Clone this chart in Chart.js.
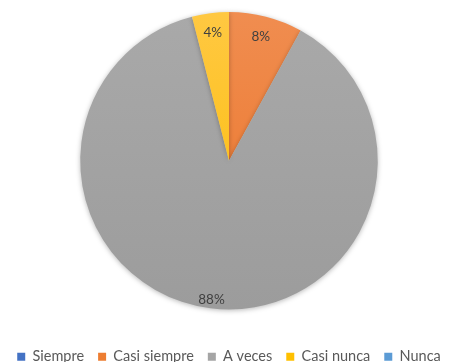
<!DOCTYPE html>
<html>
<head>
<meta charset="utf-8">
<script src="https://cdn.jsdelivr.net/npm/chart.js@4/dist/chart.umd.min.js"></script>
<style>
  html, body { margin: 0; padding: 0; background: #fff; overflow: hidden; }
  #wrap { width: 458px; height: 374px; }
</style>
</head>
<body>
<div id="wrap"><canvas id="respuestas"></canvas></div>
<script>
// datos
const labels = ['Siempre', 'Casi siempre', 'A veces', 'Casi nunca', 'Nunca'];
const valores = [0, 8, 88, 4, 0];
const colores = ['#4472C4', '#ED7D31', '#A5A5A5', '#FFC000', '#5B9BD5'];
// tono claro arriba / oscuro abajo (degradado tipo Excel)
const coloresArriba = ['#5080CC', '#F08D50', '#A9A9A9', '#FFC842', '#68A5DA'];
const coloresAbajo = ['#3F6BBA', '#EB7326', '#9C9C9C', '#FBBC00', '#4F91CC'];

// distancia de cada etiqueta desde el centro (fraccion del radio)
const posEtiquetas = [0.8, 0.86, 0.94, 0.87, 0.8];

function relleno(context){
    const chart = context.chart;
    const area = chart.chartArea;
    const i = context.dataIndex;
    if(!area) return colores[i];
    const g = chart.ctx.createLinearGradient(0, area.top, 0, area.bottom);
    g.addColorStop(0, coloresArriba[i]);
    g.addColorStop(1, coloresAbajo[i]);
    return g;
}

const sombraPlugin = {
    id: 'sombra',
    beforeDatasetsDraw(chart) {
        const ctx = chart.ctx;
        ctx.save();
        ctx.shadowColor = 'rgba(0, 0, 0, 0.28)';
        ctx.shadowBlur = 5;
        ctx.shadowOffsetX = 0;
        ctx.shadowOffsetY = 1;
    },
    afterDatasetsDraw(chart) {
        chart.ctx.restore();
    }
};

const etiquetasPlugin = {
    id: 'etiquetas',
    afterDatasetsDraw(chart) {
        const ctx = chart.ctx;
        const meta = chart.getDatasetMeta(0);
        ctx.save();
        ctx.shadowColor = 'transparent';
        ctx.font = '13.5px Lato, "Open Sans", sans-serif';
        ctx.fillStyle = '#404040';
        ctx.textAlign = 'center';
        ctx.textBaseline = 'middle';
        meta.data.forEach(function(arc, i){
            const v = valores[i];
            if(v <= 0) return;
            const p = arc.getProps(['x', 'y', 'startAngle', 'endAngle', 'outerRadius'], true);
            const mid = (p.startAngle + p.endAngle) / 2;
            const r = p.outerRadius * posEtiquetas[i];
            ctx.fillText(v + '%', p.x + Math.cos(mid) * r, p.y + Math.sin(mid) * r);
        });
        ctx.restore();
    }
};

const config = {
    type: 'pie',
    data: {
        labels: labels,
        datasets: [{
            data: valores,
            backgroundColor: relleno,
            borderWidth: 0
        }]
    },
    options: {
        responsive: true,
        maintainAspectRatio: false,
        animation: false,
        layout: {
            padding: { top: 12, left: 0, right: 0, bottom: 0 }
        },
        plugins: {
            tooltip: { enabled: false },
            legend: {
                position: 'bottom',
                title: {
                    display: true,
                    text: ' ',
                    font: { size: 10 },
                    padding: { top: 7, bottom: 7 }
                },
                labels: {
                    boxWidth: 8,
                    boxHeight: 8,
                    padding: 14,
                    color: '#595959',
                    generateLabels: function(chart){
                        return labels.map(function(t, i){
                            return {
                                text: t,
                                fillStyle: colores[i],
                                strokeStyle: colores[i],
                                lineWidth: 0,
                                fontColor: '#595959',
                                hidden: false,
                                index: i
                            };
                        });
                    },
                    font: { family: 'Lato, "Open Sans", sans-serif', size: 14.5 }
                }
            }
        }
    },
    plugins: [sombraPlugin, etiquetasPlugin]
};

new Chart(document.getElementById('respuestas'), config);
</script>
</body>
</html>
